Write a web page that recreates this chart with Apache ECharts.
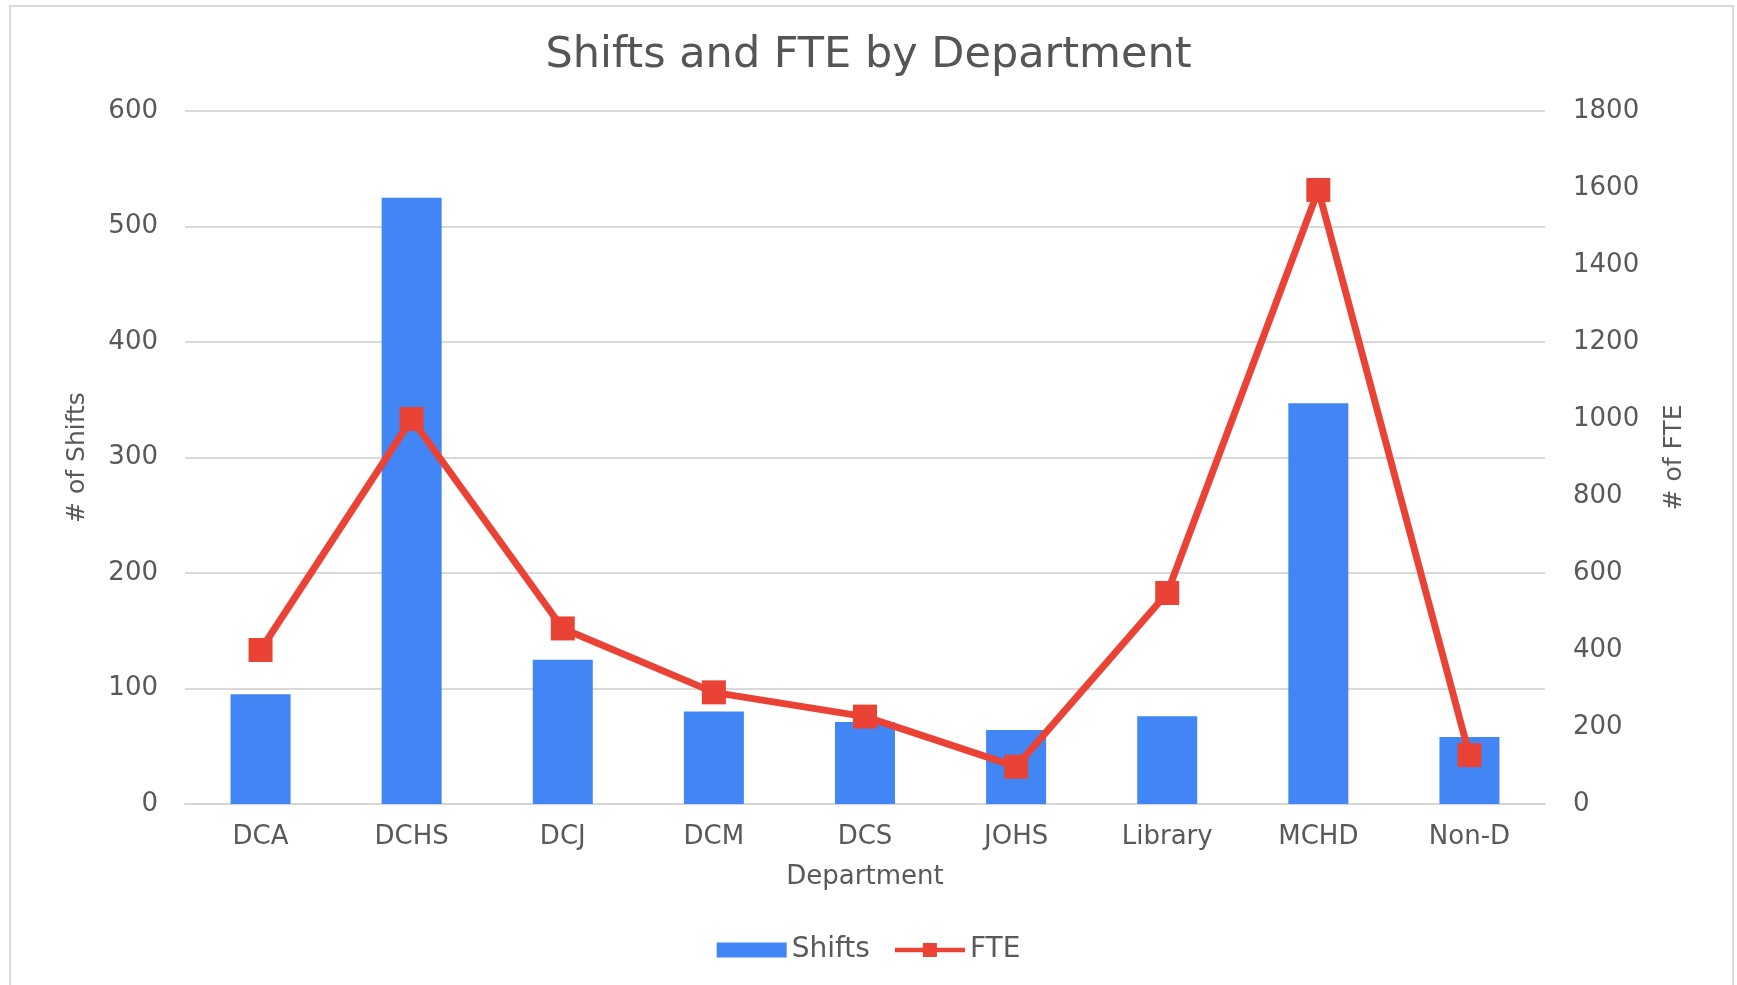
<!DOCTYPE html>
<html>
<head>
<meta charset="utf-8">
<script src="https://cdn.jsdelivr.net/npm/echarts@6/dist/echarts.min.js"></script>
<style>
html,body{margin:0;padding:0;background:#fff;}
#chart{width:1737px;height:985px;}
</style>
</head>
<body>
<div id="chart"></div>
<script>
const categories = ['DCA','DCHS','DCJ','DCM','DCS','JOHS','Library','MCHD','Non-D'];
const shifts = [95, 525, 125, 80, 71, 64, 76, 347, 58];
const fte = [400, 1000, 456, 290, 227, 97, 548, 1595, 127];
const leftTicks = {min: 0, max: 600, interval: 100};
const rightTicks = {min: 0, max: 1800, interval: 200};

const FONT = 'DejaVu Sans';
const TXT = '#595959';
const chart = echarts.init(document.getElementById('chart'), null, {renderer: 'canvas'});
chart.setOption({
  backgroundColor: '#ffffff',
  animation: false,
  title: {
    text: 'Shifts and FTE by Department',
    left: 'center',
    top: 29,
    textStyle: {fontFamily: FONT, fontSize: 43, fontWeight: 'normal', color: '#555555'}
  },
  graphic: [{
    type: 'rect',
    shape: {x: 10, y: 6, width: 1723, height: 990},
    style: {fill: 'none', stroke: '#d9d9d9', lineWidth: 2},
    silent: true, z: -1
  }],
  legend: {
    data: [
      {name: 'Shifts', icon: 'rect'},
      {name: 'FTE', icon: 'path://M0,5 L30,5 L30,0 L45,0 L45,5 L75,5 L75,10 L45,10 L45,15 L30,15 L30,10 L0,10 Z'}
    ],
    left: 'center',
    top: 931,
    itemWidth: 70,
    itemHeight: 15,
    itemGap: 25,
    textStyle: {fontFamily: FONT, fontSize: 28, color: TXT}
  },
  grid: {left: 185, right: 192, top: 111, bottom: 181, containLabel: false},
  xAxis: {
    type: 'category',
    data: categories,
    name: 'Department',
    nameLocation: 'middle',
    nameGap: 60,
    nameTextStyle: {fontFamily: FONT, fontSize: 26, color: TXT},
    axisLine: {lineStyle: {color: '#d6d6d6', width: 2}},
    axisTick: {show: false},
    axisLabel: {fontFamily: FONT, fontSize: 26, color: TXT, margin: 20}
  },
  yAxis: [{
    type: 'value',
    min: leftTicks.min, max: leftTicks.max, interval: leftTicks.interval,
    name: '# of Shifts',
    nameLocation: 'middle',
    nameGap: 95,
    nameTextStyle: {fontFamily: FONT, fontSize: 25, color: TXT},
    axisLine: {show: false},
    axisTick: {show: false},
    axisLabel: {fontFamily: FONT, fontSize: 26, color: TXT, margin: 27},
    splitLine: {lineStyle: {color: '#d9d9d9', width: 2}}
  }, {
    type: 'value',
    min: rightTicks.min, max: rightTicks.max, interval: rightTicks.interval,
    name: '# of FTE',
    nameLocation: 'middle',
    nameGap: 117,
    nameTextStyle: {fontFamily: FONT, fontSize: 25, color: TXT},
    axisLine: {show: false},
    axisTick: {show: false},
    axisLabel: {fontFamily: FONT, fontSize: 26, color: TXT, margin: 28, formatter: function (v) { return String(v); }},
    splitLine: {show: false}
  }],
  series: [{
    name: 'Shifts',
    type: 'bar',
    data: shifts,
    yAxisIndex: 0,
    barWidth: 60,
    itemStyle: {color: '#4285F4'}
  }, {
    name: 'FTE',
    type: 'line',
    data: fte,
    yAxisIndex: 1,
    symbol: 'rect',
    symbolSize: 24,
    lineStyle: {color: '#EA4335', width: 7},
    itemStyle: {color: '#EA4335'},
    z: 5
  }]
});
</script>
</body>
</html>
